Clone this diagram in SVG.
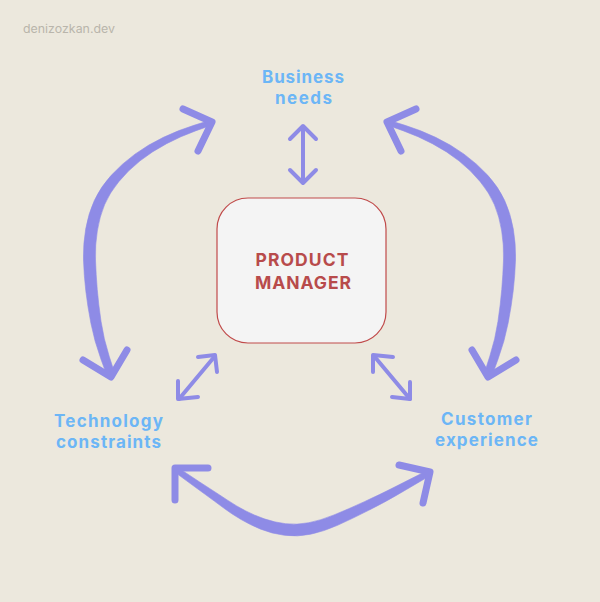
<svg xmlns="http://www.w3.org/2000/svg" width="600" height="602" viewBox="0 0 600 602">
<defs>
<style>
.bg{fill:#ece8dd}
.wm{font-family:Inter,"Open Sans",sans-serif;font-size:11.5px;fill:#b9b5ab}
.lbl{font-family:Inter,"Open Sans",sans-serif;font-weight:700;font-size:17px;fill:#6cb6f6;text-anchor:middle}
.pm{font-family:Inter,"Open Sans",sans-serif;font-weight:700;font-size:17.5px;fill:#b84b4b;text-anchor:middle}
.box{fill:#f4f4f4;stroke:#c04a4a;stroke-width:1.2}
.body{fill:#8e8be6;stroke:#8e8be6;stroke-width:0.6;stroke-linejoin:round}
.head{fill:none;stroke:#8e8be6;stroke-width:7;stroke-linecap:round;stroke-linejoin:round}
.small{fill:none;stroke:#8e8be6;stroke-width:4;stroke-linecap:round;stroke-linejoin:round}
</style>
<g id="side">
  <path class="body" d="M209.2,120.6 L194.0,125.3 Q178.8,130.0 163.4,137.35 Q148.0,144.7 134.95,154.15 Q121.9,163.6 111.2,175.35 Q100.5,187.1 94.45,200.25 Q88.4,213.4 85.7,229.0 Q83.0,244.6 83.5,260.0 Q84.0,275.4 85.75,290.6 Q87.5,305.8 90.95,323.5 Q94.4,341.2 100.8,358.75 L107.2,376.3 L114.8,373.7 L109.2,356.25 Q103.6,338.8 101.05,321.5 Q98.5,304.2 97.25,289.4 Q96.0,274.6 95.5,260.0 Q95.0,245.4 97.3,231.0 Q99.6,216.6 104.55,204.75 Q109.5,192.9 118.8,181.65 Q128.1,170.4 140.05,160.85 Q152.0,151.3 166.6,143.65 Q181.2,136.0 196.0,130.7 L210.8,125.4 Z"/>
  <polyline class="head" points="183,109 212,122 198,151"/>
  <polyline class="head" points="83,360 111,377 127,350"/>
</g>
</defs>
<rect class="bg" x="0" y="0" width="600" height="602"/>
<text class="wm" x="23" y="33" textLength="92" lengthAdjust="spacingAndGlyphs">denizozkan.dev</text>

<g id="connectors">
  <use id="arc-left" href="#side"/>
  <use id="arc-right" href="#side" transform="translate(599,0) scale(-1,1)"/>
  <g id="arc-bottom">
    <path class="body" d="M176.4,473.3 L186.25,480.55 Q196.1,487.8 205.4,494.55 Q214.7,501.3 223.1,507.6 Q231.55,513.9 240.7,519.3 Q249.8,524.7 260.7,529.15 Q271.6,533.6 284.4,535.3 Q297.25,537.0 310.5,534.25 Q323.8,531.5 338.0,525.1 Q352.2,518.7 368.6,510.35 Q385.0,502.0 395.9,495.65 Q406.8,489.3 417.6,482.95 L428.4,476.6 L425.6,471.4 L414.4,477.05 Q403.2,482.7 392.1,488.35 Q381.0,494.0 364.4,501.65 Q347.8,509.3 334.0,514.9 Q320.2,520.5 308.5,522.75 Q296.75,525.0 285.6,523.7 Q274.4,522.4 264.3,518.85 Q254.2,515.3 245.3,510.7 Q236.45,506.1 227.9,500.4 Q219.3,494.7 209.6,488.45 Q199.9,482.2 189.75,475.45 L179.6,468.7 Z"/>
    <polyline class="head" points="208,468 175,468 175,500"/>
    <polyline class="head" points="399,465 430,472 423,503"/>
  </g>
  <g id="arrow-top">
    <line class="small" x1="303" y1="127" x2="303" y2="182"/>
    <polyline class="small" points="290,139 303,126 316,139"/>
    <polyline class="small" points="290,170 303,183 316,170"/>
  </g>
  <g id="arrow-left">
    <line class="small" x1="179" y1="399" x2="215" y2="356"/>
    <polyline class="small" points="198,357 215,355 217,372"/>
    <polyline class="small" points="178,381 178,399 198,397"/>
  </g>
  <g id="arrow-right">
    <line class="small" x1="374" y1="356" x2="410" y2="399"/>
    <polyline class="small" points="393,357 373,355 373,372"/>
    <polyline class="small" points="410,382 410,399 392,397"/>
  </g>
</g>

<g id="node-pm">
  <rect class="box" x="217" y="198" width="169" height="145" rx="31" ry="31"/>
  <text class="pm" x="302" y="266" textLength="93">PRODUCT</text>
  <text class="pm" x="303" y="289" textLength="96">MANAGER</text>
</g>
<g id="node-business">
  <text class="lbl" x="303" y="83" textLength="82">Business</text>
  <text class="lbl" x="303.5" y="104" textLength="57">needs</text>
</g>
<g id="node-technology">
  <text class="lbl" x="108.5" y="427" textLength="109">Technology</text>
  <text class="lbl" x="108.5" y="448" textLength="105">constraints</text>
</g>
<g id="node-customer">
  <text class="lbl" x="486.5" y="425" textLength="91">Customer</text>
  <text class="lbl" x="486.5" y="446" textLength="103">experience</text>
</g>
</svg>
